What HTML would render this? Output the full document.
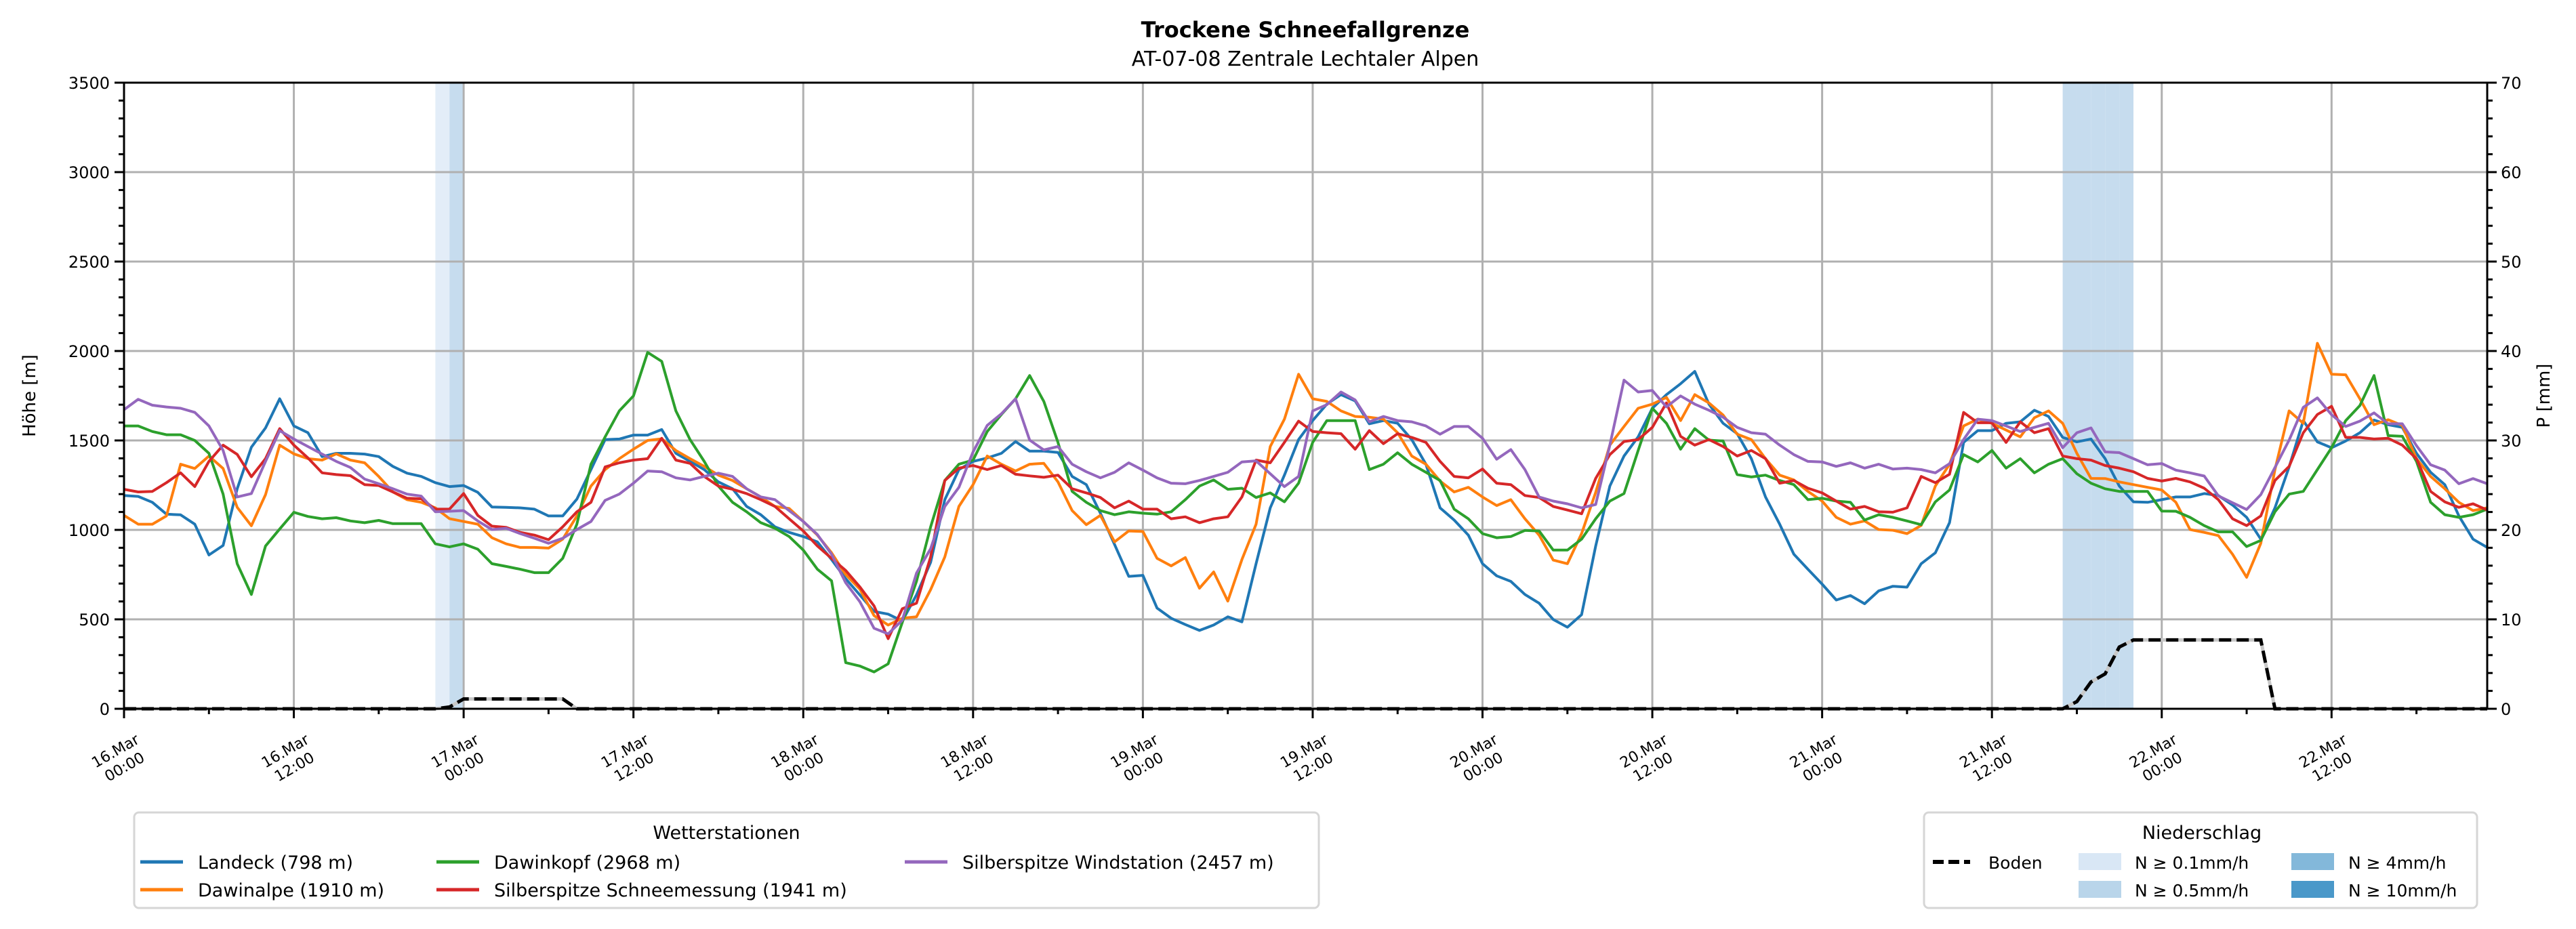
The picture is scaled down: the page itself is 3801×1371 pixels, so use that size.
<!DOCTYPE html>
<html><head><meta charset="utf-8"><title>Trockene Schneefallgrenze</title>
<style>html,body{margin:0;padding:0;background:#fff;}svg{display:block;font-family:"DejaVu Sans","Liberation Sans",sans-serif;}</style>
</head><body>
<svg id="chart" xmlns="http://www.w3.org/2000/svg" width="3801" height="1371" viewBox="0 0 3801 1371">
<rect x="0" y="0" width="3801" height="1371" fill="#fff"/>
<text x="1926" y="55" text-anchor="middle" font-size="32" font-weight="bold">Trockene Schneefallgrenze</text>
<text x="1926" y="97" text-anchor="middle" font-size="30">AT-07-08 Zentrale Lechtaler Alpen</text>
<g id="bands"></g>
<g id="grid"></g>
<g id="series"></g>
<g id="boden"></g>
<g id="axes"></g>
<text transform="translate(52,584) rotate(-90)" text-anchor="middle" font-size="26">Höhe [m]</text>
<text transform="translate(3762,584) rotate(-90)" text-anchor="middle" font-size="26">P [mm]</text>
<g>
<rect x="198" y="1199" width="1748" height="141" rx="7" fill="#fff" stroke="#d6d6d6" stroke-width="3"/>
<text x="1072" y="1238" text-anchor="middle" font-size="27">Wetterstationen</text>
<g><line x1="207" y1="1272" x2="270" y2="1272" stroke="#1f77b4" stroke-width="5"/><text x="292" y="1282" font-size="27">Landeck (798 m)</text></g>
<g><line x1="207" y1="1313" x2="270" y2="1313" stroke="#ff7f0e" stroke-width="5"/><text x="292" y="1323" font-size="27">Dawinalpe (1910 m)</text></g>
<g><line x1="644" y1="1272" x2="707" y2="1272" stroke="#2ca02c" stroke-width="5"/><text x="729" y="1282" font-size="27">Dawinkopf (2968 m)</text></g>
<g><line x1="644" y1="1313" x2="707" y2="1313" stroke="#d62728" stroke-width="5"/><text x="729" y="1323" font-size="27">Silberspitze Schneemessung (1941 m)</text></g>
<g><line x1="1335" y1="1272" x2="1398" y2="1272" stroke="#9467bd" stroke-width="5"/><text x="1420" y="1282" font-size="27">Silberspitze Windstation (2457 m)</text></g>
</g>
<g>
<rect x="2839" y="1199" width="816" height="141" rx="7" fill="#fff" stroke="#d6d6d6" stroke-width="3"/>
<text x="3249" y="1238" text-anchor="middle" font-size="27">Niederschlag</text>
<g><line x1="2852" y1="1272" x2="2907" y2="1272" stroke="#000" stroke-width="6" stroke-dasharray="16,7"/><text x="2934" y="1282" font-size="25">Boden</text></g>
<g><rect x="3067" y="1259" width="63" height="25" fill="#d9e7f5"/><text x="3150" y="1282" font-size="25">N ≥ 0.1mm/h</text></g>
<g><rect x="3067" y="1300" width="63" height="25" fill="#b9d5ea"/><text x="3150" y="1323" font-size="25">N ≥ 0.5mm/h</text></g>
<g><rect x="3381" y="1259" width="63" height="25" fill="#83b8da"/><text x="3465" y="1282" font-size="25">N ≥ 4mm/h</text></g>
<g><rect x="3381" y="1300" width="63" height="25" fill="#4a98c9"/><text x="3465" y="1323" font-size="25">N ≥ 10mm/h</text></g>
</g>
</svg>
<script>
const landeck = [1192,1187,1154,1088,1084,1032,860,913,1230,1462,1570,1733,1581,1543,1410,1428,1428,1424,1410,1355,1317,1299,1264,1242,1248,1210,1128,1126,1123,1116,1078,1078,1172,1337,1505,1508,1530,1530,1561,1428,1383,1337,1268,1230,
1131,1085,1017,986,963,933,834,727,636,544,529,491,636,819,1169,1337,1383,1402,1428,1494,1440,1440,1433,1299,1253,1093,918,740,746,563,506,471,438,468,514,486,811,1123,1306,1505,1611,1703,
1756,1721,1593,1611,1596,1505,1367,1123,1055,971,811,743,712,639,590,499,456,526,910,1245,1413,1520,1680,1756,1817,1886,1703,1596,1538,1398,1184,1032,864,780,697,608,633,587,659,685,
680,811,872,1040,1489,1555,1555,1596,1604,1669,1634,1517,1492,1508,1398,1245,1157,1154,1169,1184,1184,1203,1192,1139,1070,948,1123,1352,1611,1492,1459,1497,1543,1614,1588,1573,1428,1322,1253,1078,948,902];
const dawinalpe = [1081,1032,1032,1078,1367,1343,1413,1343,1126,1023,1197,1474,1425,1398,1390,1425,1390,1375,1299,1212,1169,1154,1123,1063,1047,1032,956,922,902,902,898,948,1078,1245,1337,1398,1451,1500,1509,1444,1398,1355,1306,1276,
1230,1184,1131,1120,1047,971,872,750,669,521,468,506,514,666,849,1131,1253,1413,1367,1329,1367,1372,1268,1108,1029,1081,933,994,991,841,799,845,674,765,602,834,1032,1466,1619,1870,1733,1718,
1665,1634,1630,1619,1543,1413,1367,1273,1212,1238,1184,1136,1169,1062,971,831,811,979,1210,1474,1578,1680,1703,1741,1611,1756,1710,1642,1535,1505,1398,1306,1279,1215,1161,1070,1032,1050,1002,998,
979,1025,1245,1367,1581,1619,1596,1558,1520,1627,1665,1596,1428,1288,1287,1268,1253,1238,1223,1154,1002,986,968,864,735,925,1337,1665,1596,2043,1870,1867,1733,1588,1616,1584,1398,1299,1230,1154,1108,1123];
const dawinkopf = [1581,1581,1550,1532,1532,1500,1428,1200,811,639,910,1005,1098,1075,1062,1068,1050,1040,1053,1035,1035,1035,922,905,922,892,811,796,780,761,761,841,1032,1367,1520,1665,1749,1992,1942,1665,1505,1383,1245,1154,
1101,1040,1009,963,887,780,715,258,239,206,251,483,712,1017,1276,1367,1390,1550,1645,1733,1863,1718,1489,1215,1154,1108,1085,1101,1093,1088,1101,1169,1245,1279,1227,1233,1181,1207,1157,1261,1489,1611,
1611,1611,1337,1367,1431,1367,1322,1276,1116,1062,979,956,963,997,994,887,887,948,1062,1161,1203,1444,1680,1596,1451,1566,1502,1497,1309,1296,1306,1276,1253,1169,1177,1161,1154,1055,1085,1070,
1050,1029,1157,1223,1421,1380,1444,1345,1398,1319,1367,1398,1314,1261,1230,1215,1215,1215,1105,1104,1070,1024,989,989,907,941,1101,1200,1215,1337,1459,1611,1695,1863,1527,1523,1383,1154,1085,1070,1085,1116];
const schneemessung = [1227,1212,1215,1264,1319,1242,1383,1474,1422,1297,1398,1566,1474,1402,1319,1309,1303,1253,1248,1212,1177,1174,1116,1116,1203,1081,1021,1014,986,971,945,1017,1101,1154,1352,1375,1390,1398,1512,1390,1372,1299,1245,1227,
1203,1169,1131,1062,994,910,841,773,681,575,392,559,590,849,1276,1345,1360,1337,1360,1311,1302,1294,1306,1230,1207,1181,1123,1161,1116,1116,1062,1073,1040,1062,1073,1184,1390,1375,1489,1608,1550,1543,
1538,1451,1555,1482,1538,1517,1489,1383,1299,1291,1340,1261,1253,1192,1181,1131,1111,1090,1288,1421,1494,1505,1573,1710,1523,1474,1505,1466,1413,1444,1398,1261,1276,1233,1207,1161,1116,1131,1101,1099,
1123,1299,1264,1311,1657,1599,1599,1489,1604,1543,1566,1413,1398,1390,1360,1345,1325,1288,1273,1288,1268,1233,1169,1062,1024,1078,1276,1355,1543,1645,1691,1517,1517,1508,1512,1474,1398,1215,1157,1126,1146,1111];
const windstation = [1672,1730,1697,1687,1680,1657,1581,1444,1184,1203,1383,1555,1508,1466,1424,1383,1349,1284,1258,1230,1200,1189,1101,1104,1108,1050,1002,1009,979,953,925,953,1002,1047,1165,1200,1261,1329,1325,1291,1279,1299,1317,1299,
1230,1184,1169,1108,1047,974,864,704,598,450,419,495,758,895,1131,1238,1436,1584,1649,1733,1502,1447,1466,1367,1325,1291,1322,1375,1334,1291,1261,1258,1276,1299,1322,1380,1386,1314,1242,1299,1665,1700,
1771,1726,1604,1634,1611,1604,1581,1535,1578,1578,1512,1395,1449,1337,1184,1161,1146,1123,1142,1474,1837,1771,1779,1688,1749,1703,1669,1630,1573,1543,1535,1474,1421,1383,1380,1355,1375,1345,1367,1340,
1345,1337,1319,1370,1505,1619,1611,1581,1550,1573,1596,1459,1543,1570,1436,1432,1398,1364,1371,1334,1319,1301,1190,1152,1114,1197,1349,1502,1685,1738,1644,1578,1608,1654,1593,1593,1471,1364,1334,1258,1287,1258];
const boden = [0,0,0,0,0,0,0,0,0,0,0,0,0,0,0,0,0,0,0,0,0,0,0,0.2,1.1,1.1,1.1,1.1,1.1,1.1,1.1,1.1,0,0,0,0,0,0,0,0,0,0,0,0,
0,0,0,0,0,0,0,0,0,0,0,0,0,0,0,0,0,0,0,0,0,0,0,0,0,0,0,0,0,0,0,0,0,0,0,0,0,0,0,0,0,0,
0,0,0,0,0,0,0,0,0,0,0,0,0,0,0,0,0,0,0,0,0,0,0,0,0,0,0,0,0,0,0,0,0,0,0,0,0,0,0,0,
0,0,0,0,0,0,0,0,0,0,0,0,0.8,3.0,3.9,6.9,7.7,7.7,7.7,7.7,7.7,7.7,7.7,7.7,7.7,7.7,0,0,0,0,0,0,0,0,0,0,0,0,0,0,0,0];
const precipHours = [22,23,137,138,139,140,141];
const precipRates = [0.1,0.5,0.5,0.5,0.5,0.5,0.5];
const xTickDays = ["16.Mar","16.Mar","17.Mar","17.Mar","18.Mar","18.Mar","19.Mar","19.Mar","20.Mar","20.Mar","21.Mar","21.Mar","22.Mar","22.Mar"];
const xTickTimes = ["00:00","12:00","00:00","12:00","00:00","12:00","00:00","12:00","00:00","12:00","00:00","12:00","00:00","12:00"];
const yTicks = [0,500,1000,1500,2000,2500,3000,3500];
const y2Ticks = [0,10,20,30,40,50,60,70];

const NS = "http://www.w3.org/2000/svg";
const L = 183, R = 3670, T = 122, B = 1046, XMAX = 167, YMAX = 3500, PMAX = 70;
function xs(h){ return L + h * (R - L) / XMAX; }
function ys(v){ return B - v * (B - T) / YMAX; }
function yp(p){ return B - p * (B - T) / PMAX; }
function mk(tag, attrs, parent){
  const e = document.createElementNS(NS, tag);
  for (const k in attrs) e.setAttribute(k, attrs[k]);
  parent.appendChild(e);
  return e;
}
const gBands = document.getElementById('bands');
const gGrid = document.getElementById('grid');
const gSeries = document.getElementById('series');
const gBoden = document.getElementById('boden');
const gAxes = document.getElementById('axes');

function rateColor(r){ if (r >= 10) return '#4a98c9'; if (r >= 4) return '#83b8da'; if (r >= 0.5) return '#c6dcee'; return '#e3edf8'; }
precipHours.forEach((h, i) => {
  const r = mk('rect', {x: xs(h), y: T, width: xs(h + 1) - xs(h), height: B - T, fill: rateColor(precipRates[i])}, gBands);
  
  
});

yTicks.forEach(v => {
  const ln = mk('line', {x1: L, x2: R, y1: ys(v), y2: ys(v), stroke: '#b0b0b0', 'stroke-width': 3}, gGrid);
  
  
});
xTickDays.forEach((d, i) => {
  const ln = mk('line', {x1: xs(i * 12), x2: xs(i * 12), y1: T, y2: B, stroke: '#b0b0b0', 'stroke-width': 3}, gGrid);
  
  
});

const seriesList = [[landeck,'#1f77b4','series-landeck'],[dawinalpe,'#ff7f0e','series-dawinalpe'],[dawinkopf,'#2ca02c','series-dawinkopf'],[schneemessung,'#d62728','series-silberspitze-schneemessung'],[windstation,'#9467bd','series-silberspitze-windstation']];
seriesList.forEach(s => {
  const pts = s[0].map((v, h) => xs(h).toFixed(1) + ',' + ys(v).toFixed(1)).join(' ');
  const pl = mk('polyline', {points: pts, fill: 'none', stroke: s[1], 'stroke-width': 4, 'stroke-linejoin': 'round'}, gSeries);
  
  
});

const bpts = boden.map((p, h) => xs(h).toFixed(1) + ',' + yp(p).toFixed(1)).join(' ');
const bg = mk('polyline', {points: bpts, fill: 'none', stroke: '#c8c8c8', 'stroke-width': 5}, gBoden);


const bl = mk('polyline', {points: bpts, fill: 'none', stroke: '#000', 'stroke-width': 5, 'stroke-dasharray': '18,8'}, gBoden);



const frame = mk('rect', {x: L, y: T, width: R - L, height: B - T, fill: 'none', stroke: '#000', 'stroke-width': 3}, gAxes);


for (let v = 0; v <= YMAX; v += 100) {
  const major = v % 500 === 0;
  const t = mk('line', {x1: L - (major ? 14 : 8), x2: L, y1: ys(v), y2: ys(v), stroke: '#000', 'stroke-width': 3}, gAxes);
  
  
}
yTicks.forEach(v => {
  const tx = mk('text', {x: L - 21, y: ys(v) + 9, 'text-anchor': 'end', 'font-size': 24}, gAxes);
  tx.textContent = String(v);
  
  
});
for (let p = 0; p <= PMAX; p += 2) {
  const major = p % 10 === 0;
  const t = mk('line', {x1: R, x2: R + (major ? 14 : 8), y1: yp(p), y2: yp(p), stroke: '#000', 'stroke-width': 3}, gAxes);
  
  
}
y2Ticks.forEach(p => {
  const tx = mk('text', {x: R + 20, y: yp(p) + 9, 'text-anchor': 'start', 'font-size': 24}, gAxes);
  tx.textContent = String(p);
  
  
});
for (let h = 0; h <= XMAX; h += 6) {
  const major = h % 12 === 0;
  const t = mk('line', {x1: xs(h), x2: xs(h), y1: B, y2: B + (major ? 14 : 8), stroke: '#000', 'stroke-width': 3}, gAxes);
  
  
}
xTickDays.forEach((d, i) => {
  const g = mk('g', {transform: 'translate(' + (xs(i * 12) - 6).toFixed(1) + ',1120) rotate(-30)'}, gAxes);
  
  
  const t1 = mk('text', {x: 0, y: -6, 'text-anchor': 'middle', 'font-size': 22}, g);
  t1.textContent = d;
  const t2 = mk('text', {x: 0, y: 21, 'text-anchor': 'middle', 'font-size': 22}, g);
  t2.textContent = xTickTimes[i];
});
</script>
</body></html>
